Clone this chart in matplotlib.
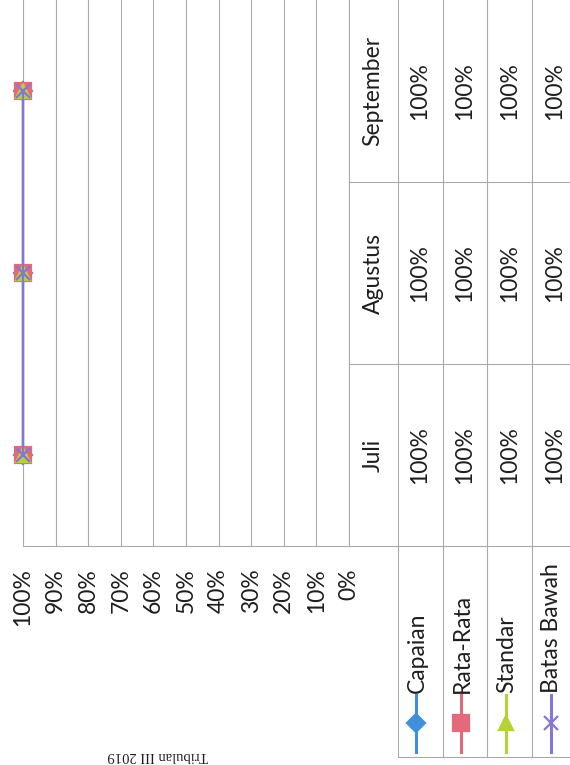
import matplotlib
matplotlib.use("Agg")
import matplotlib.pyplot as plt
import matplotlib.transforms as mtransforms
from matplotlib.lines import Line2D

# ---- data -------------------------------------------------------------
months = ["Juli", "Agustus", "September"]
series_names = ["Capaian", "Rata-Rata", "Standar", "Batas Bawah"]
capaian = [1.00, 1.00, 1.00]
rata_rata = [1.00, 1.00, 1.00]
standar = [1.00, 1.00, 1.00]
batas_bawah = [1.00, 1.00, 1.00]
value_ticks = [0.0, 0.1, 0.2, 0.3, 0.4, 0.5, 0.6, 0.7, 0.8, 0.9, 1.0]
period_label = "Tribulan III 2019"

series_values = [capaian, rata_rata, standar, batas_bawah]
colors = ["#3F8FDB", "#E4697A", "#B6D137", "#8577D6"]
markers = ["D", "s", "^", "x"]
msizes = [9, 11, 10, 10]

FONT = "Lato"
FS = 16.5
TXT = "#1e1e1e"
GRID = "#aaaaaa"

W, H = 570, 765
fig = plt.figure(figsize=(W / 100, H / 100), dpi=100)
fig.patch.set_facecolor("white")


def fx(px):
    return px / W


def fy(py):
    return 1 - py / H


# plot area (chart laid on its side: value axis runs right-to-left)
ax = fig.add_axes([fx(23), fy(546), fx(349) - fx(23), fy(0) - fy(546)])
ax.set_xlim(1.0, 0.0)
ax.set_ylim(-0.5, len(months) - 0.5)
for s in ax.spines.values():
    s.set_visible(False)
ax.set_xticks(value_ticks)
ax.set_xticklabels([f"{t:.0%}" for t in value_ticks], fontfamily=FONT,
                   fontsize=FS, color=TXT)
ax.tick_params(axis="x", length=0, pad=16, labelrotation=90)
ax.set_yticks([])
ax.grid(axis="x", color=GRID, lw=0.8)
ax.set_axisbelow(True)

cat_pos = list(range(len(months)))
for vals, col, mk, ms in zip(series_values, colors, markers, msizes):
    ax.plot(vals, cat_pos, color=col, lw=1.6, marker=mk, markersize=ms,
            markerfacecolor=col, markeredgecolor=col, markeredgewidth=1.6,
            clip_on=False, zorder=3)

# ---- data table --------------------------------------------------------
blend = mtransforms.blended_transform_factory(fig.transFigure, ax.transData)
header_x = 373
col_x = [420, 465, 510, 555]
col_edges = [398, 443, 487, 532, 577]


def fig_line(x0, y0, x1, y1, color=GRID, lw=0.8):
    fig.add_artist(Line2D([fx(x0), fx(x1)], [fy(y0), fy(y1)],
                          transform=fig.transFigure, color=color, lw=lw))


# outer / cell borders
fig_line(23, 546, 577, 546)
fig_line(349, 0, 349, 546)
for xe in col_edges:
    fig_line(xe, 0, xe, 757)
fig_line(398, 757, 577, 757)
for b in [i + 0.5 for i in cat_pos[:-1]]:
    fig.add_artist(Line2D([fx(349), fx(577)], [b, b], transform=blend,
                          color=GRID, lw=0.8))

# month headers and cell values
for i, m in enumerate(months):
    fig.text(fx(header_x), i, m, transform=blend, rotation=90, ha="center",
             va="center", fontfamily=FONT, fontsize=FS, color=TXT)
    for vals, cx in zip(series_values, col_x):
        fig.text(fx(cx), i, f"{vals[i]:.0%}", transform=blend, rotation=90,
                 ha="center", va="center", fontfamily=FONT, fontsize=FS,
                 color=TXT)

# legend keys with series names
for name, col, mk, ms, cx in zip(series_names, colors, markers, msizes, col_x):
    kx = cx - 4
    fig.add_artist(Line2D([fx(kx), fx(kx)], [fy(752), fy(695)],
                          transform=fig.transFigure, color=col, lw=2.2))
    fig.add_artist(Line2D([fx(kx)], [fy(723)], transform=fig.transFigure,
                          marker=mk, markersize=ms, color=col,
                          markerfacecolor=col, markeredgecolor=col,
                          markeredgewidth=1.6))
    fig.text(fx(kx + 1), fy(693), name, rotation=90, rotation_mode="anchor",
             ha="left", va="center", fontfamily=FONT, fontsize=FS, color=TXT)

# period caption
fig.text(fx(158), fy(755), period_label, rotation=180, ha="center",
         va="center", fontfamily="Liberation Serif", fontsize=10.5, color=TXT)

fig.savefig("out.png", dpi=100)
